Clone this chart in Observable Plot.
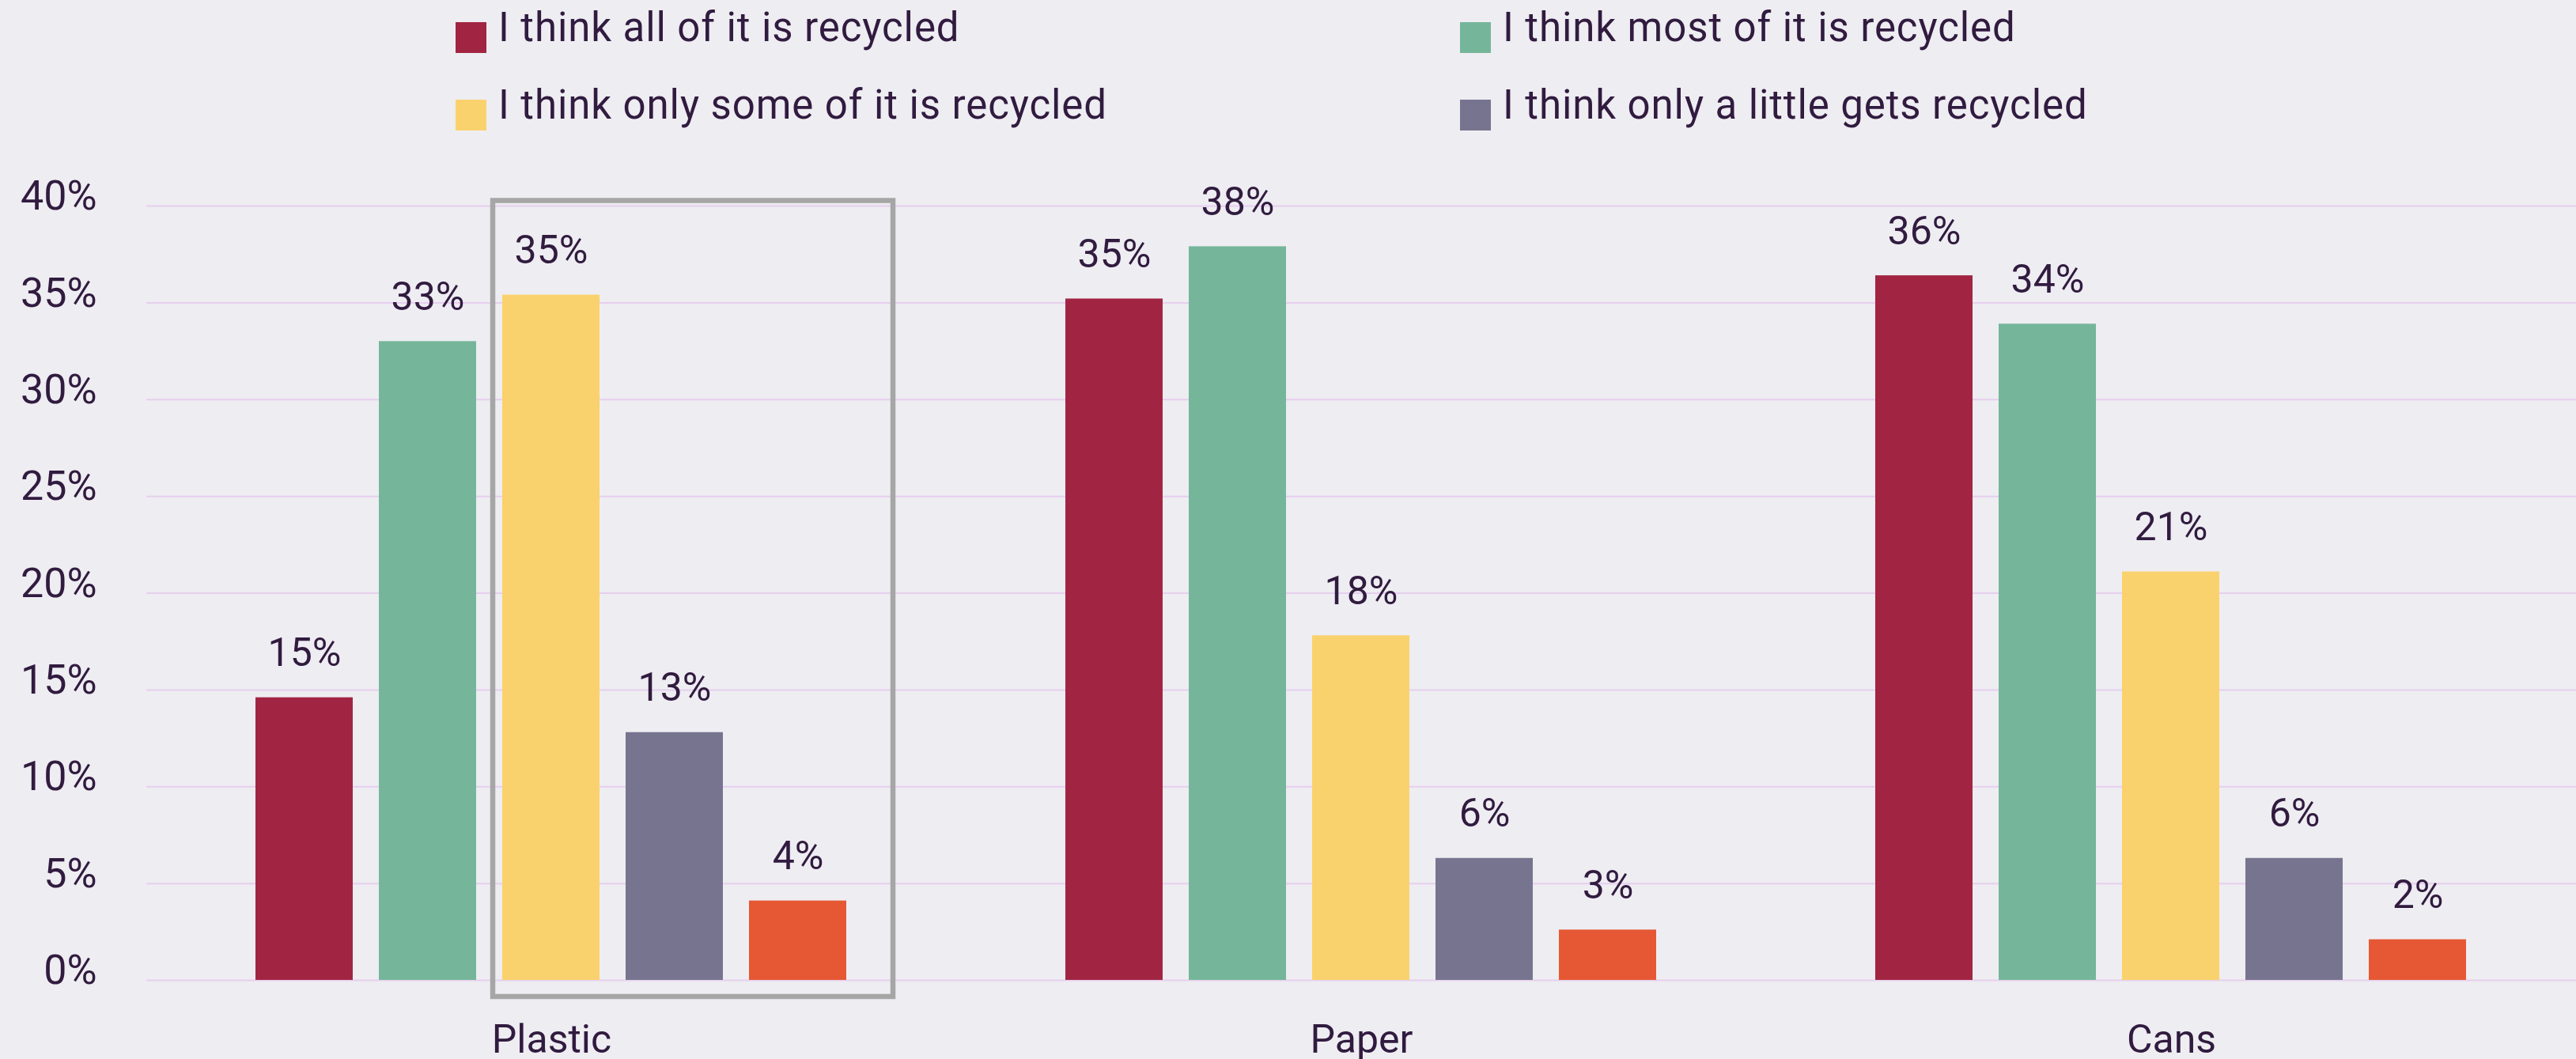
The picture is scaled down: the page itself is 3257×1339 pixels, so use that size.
<!DOCTYPE html>
<html>
<head>
<meta charset="utf-8">
<script src="https://cdn.jsdelivr.net/npm/d3@7"></script>
<script src="https://cdn.jsdelivr.net/npm/@observablehq/plot@0.6"></script>
<style>
  html, body { margin: 0; padding: 0; background: #eeedf2; overflow: hidden; }
  #legend { position: relative; width: 3257px; height: 200px; font-family: Roboto, sans-serif; color: #311b3f; }
  .item { position: absolute; height: 60px; }
  .swatch { position: absolute; left: 0; width: 39px; height: 39px; }
  .label { position: absolute; left: 54px; font-size: 51px; line-height: 51px; letter-spacing: 0.9px; white-space: nowrap; }
  #chart svg { display: block; }
</style>
</head>
<body>
<div id="legend"></div>
<div id="chart"></div>
<script>
// ---- data ----
const categories = ["Plastic", "Paper", "Cans"];
const series = [
  "I think all of it is recycled",
  "I think most of it is recycled",
  "I think only some of it is recycled",
  "I think only a little gets recycled",
  "I think none of it is recycled"
];
const colors = ["#a12542", "#75b69a", "#fad26d", "#77748f", "#e55833"];
const plasticValues = [14.6, 33.0, 35.4, 12.8, 4.1];
const paperValues = [35.2, 37.9, 17.8, 6.3, 2.6];
const cansValues = [36.4, 33.9, 21.1, 6.3, 2.1];
const yTicks = [0, 5, 10, 15, 20, 25, 30, 35, 40];
const legendSeries = series.slice(0, 4);
const highlight = [{category: "Plastic", series: "I think only a little gets recycled", top: 40}];

const valuesByCategory = {Plastic: plasticValues, Paper: paperValues, Cans: cansValues};
const data = categories.flatMap(c =>
  series.map((s, i) => ({category: c, series: s, value: valuesByCategory[c][i]}))
);

const textColor = "#311b3f";

// ---- legend (HTML above the chart) ----
const legendLeft = [576, 1846];
const legendTop = [28, 126];
const legend = d3.select("#legend");
legendSeries.forEach((s, i) => {
  const col = i % 2, row = Math.floor(i / 2);
  const item = legend.append("div").attr("class", "item")
    .style("left", legendLeft[col] + "px")
    .style("top", legendTop[row] + "px");
  item.append("div").attr("class", "swatch").style("background", colors[series.indexOf(s)]).style("top", "0px");
  item.append("div").attr("class", "label").style("top", "-19px").text(s);
});

// ---- chart ----
const chart = Plot.plot({
  width: 3257,
  height: 1139,
  marginLeft: 184,
  marginRight: 0,
  marginTop: 60,
  marginBottom: 100,
  style: {background: "transparent", fontFamily: "Roboto, sans-serif", color: textColor, overflow: "visible"},
  fx: {domain: categories, padding: 0, label: null},
  x: {domain: series, paddingInner: 0.21, paddingOuter: 0.87, axis: null},
  y: {domain: [0, 40], label: null},
  color: {domain: series, range: colors},
  marks: [
    Plot.gridY(yTicks, {stroke: "#e6cfee", strokeOpacity: 1, strokeWidth: 2}),
    Plot.barY(data, {fx: "category", x: "series", y: "value", fill: "series"}),
    Plot.text(data, {
      fx: "category", x: "series", y: "value",
      text: d => Math.round(d.value) + "%",
      dy: -40, lineAnchor: "bottom", fontSize: 50, fill: textColor
    }),
    Plot.barY(highlight, {
      fx: "category", x: "series", y1: 0, y2: "top",
      fill: "none", stroke: "#a6a6a6", strokeWidth: 6.5,
      insetLeft: -168, insetRight: -215, insetTop: -6.5, insetBottom: -21
    }),
    Plot.axisY(yTicks, {
      tickSize: 0, tickPadding: 63, dy: -12, fontSize: 52,
      tickFormat: d => d + "%", fill: textColor, label: null
    }),
    Plot.axisFx({
      anchor: "bottom", tickSize: 0, tickPadding: 56, fontSize: 50,
      fill: textColor, label: null, style: {letterSpacing: "1.5px"}
    })
  ]
});
document.getElementById("chart").append(chart);
</script>
</body>
</html>
